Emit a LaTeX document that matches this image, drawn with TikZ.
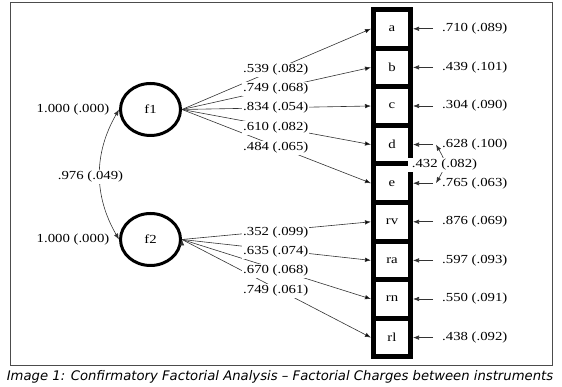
\documentclass[tikz,border=0pt]{standalone}
\usepackage{fontspec}
\setmainfont[FakeStretch=1.2]{Liberation Serif}
\newfontfamily\capfont{DejaVu Sans}
\usepackage{tikz}
\usetikzlibrary{positioning,shapes,arrows,arrows.meta}

\begin{document}
\begin{tikzpicture}[
  x=1pt, y=1pt,
  font=\fontsize{12.3}{14}\selectfont,
  latnode/.style={draw,ellipse,line width=3pt,minimum width=60pt,minimum height=52pt,inner sep=0pt},
  obsnode/.style={draw,rectangle,line width=5pt,minimum width=37pt,minimum height=38.6pt,inner sep=0pt,outer sep=2.5pt},
  lab/.style={fill=white,inner sep=1pt},
  load/.style={-{Latex[length=6pt,width=4.5pt]},draw=black!80,line width=0.6pt},
  cov/.style={{Latex[length=6pt,width=4.5pt]}-{Latex[length=6pt,width=4.5pt]},draw=black!80,line width=0.6pt}
    ]
\useasboundingbox (0,0) rectangle (562,387);
\draw[black!70,line width=0.8pt] (10,22) rectangle (552,385);

% factors
\node[latnode] (f1) at (150.5,277.5) {f1};
\node[latnode] (f2) at (150.5,147.5) {f2};
\node[lab,left=8.5pt of f1] (v1) {1.000 (.000)};
\node[lab,left=8.5pt of f2] (v2) {1.000 (.000)};

% indicators
\node[obsnode] (a) at (392,358.2) {a};
\node[obsnode,below=-5pt of a] (b) {b};
\node[obsnode,below=-5pt of b] (c) {c};
\node[obsnode,below=-5pt of c] (d) {d};
\node[obsnode,below=-5pt of d] (e) {e};
\node[obsnode,below=-5pt of e] (rv) {rv};
\node[obsnode,below=-5pt of rv] (ra) {ra};
\node[obsnode,below=-5pt of ra] (rn) {rn};
\node[obsnode,below=-5pt of rn] (rl) {rl};

\draw[cov] (f1.west) to[bend right=30] (f2.west);
\node[lab] (r12) at (90.5,210) {.976 (.049)};

\path[load] (f1.east) edge (a.west)
(f1.east) edge (b.west)
(f1.east) edge (c.west)
(f1.east) edge (d.west)
(f1.east) edge (e.west)
(f2.east) edge (rv.west)
(f2.east) edge (ra.west)
(f2.east) edge (rn.west)
(f2.east) edge (rl.west);

\node[lab,anchor=west] (la) at (242,317) {.539 (.082)};
\node[lab,anchor=west] (lb) at (242,298) {.749 (.068)};
\node[lab,anchor=west] (lc) at (242,279) {.834 (.054)};
\node[lab,anchor=west] (ld) at (242,259) {.610 (.082)};
\node[lab,anchor=west] (le) at (242,239) {.484 (.065)};
\node[lab,anchor=west] (lrv) at (242,154) {.352 (.099)};
\node[lab,anchor=west] (lra) at (242,135) {.635 (.074)};
\node[lab,anchor=west] (lrn) at (242,116) {.670 (.068)};
\node[lab,anchor=west] (lrl) at (242,96) {.749 (.061)};

% errors
\coordinate (ua) at ([xshift=20pt]a.east);
\coordinate (ub) at ([xshift=20pt]b.east);
\coordinate (uc) at ([xshift=20pt]c.east);
\coordinate (ud) at ([xshift=20pt]d.east);
\coordinate (ue) at ([xshift=20pt]e.east);
\coordinate (urv) at ([xshift=20pt]rv.east);
\coordinate (ura) at ([xshift=20pt]ra.east);
\coordinate (urn) at ([xshift=20pt]rn.east);
\coordinate (url) at ([xshift=20pt]rl.east);
\draw[load] (ua) -- (a.east);
\draw[load] (ub) -- (b.east);
\draw[load] (uc) -- (c.east);
\draw[load] (ud) -- (d.east);
\draw[load] (ue) -- (e.east);
\draw[load] (urv) -- (rv.east);
\draw[load] (ura) -- (ra.east);
\draw[load] (urn) -- (rn.east);
\draw[load] (url) -- (rl.east);
\draw[cov] ([xshift=3pt]ud) to[out=-60,in=60,looseness=1.4] ([xshift=3pt]ue);
\node[lab,anchor=west] (ea) at ([xshift=8pt]ua) {.710 (.089)};
\node[lab,anchor=west] (eb) at ([xshift=8pt]ub) {.439 (.101)};
\node[lab,anchor=west] (ec) at ([xshift=8pt]uc) {.304 (.090)};
\node[lab,anchor=west] (ed) at ([xshift=8pt]ud) {.628 (.100)};
\node[lab,anchor=west] (ee) at ([xshift=8pt]ue) {.765 (.063)};
\node[lab,anchor=west] (erv) at ([xshift=8pt]urv) {.876 (.069)};
\node[lab,anchor=west] (era) at ([xshift=8pt]ura) {.597 (.093)};
\node[lab,anchor=west] (ern) at ([xshift=8pt]urn) {.550 (.091)};
\node[lab,anchor=west] (erl) at ([xshift=8pt]url) {.438 (.092)};
\node[lab,inner xsep=4pt] (rde) at (444.5,222) {.432 (.082)};

\node[font=\capfont\itshape\fontsize{13.2}{15}\selectfont] (cap) at (280,10)
  {Image 1: Confirmatory Factorial Analysis – Factorial Charges between instruments};
\end{tikzpicture}
\end{document}
